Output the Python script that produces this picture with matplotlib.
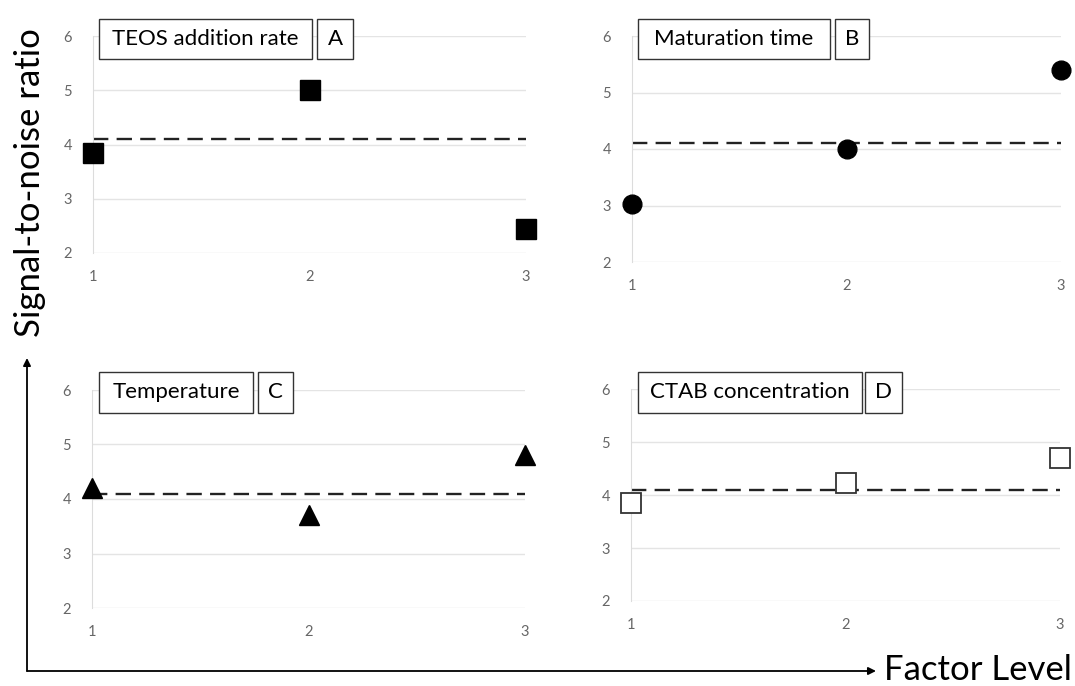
import matplotlib
matplotlib.use("Agg")
import matplotlib.pyplot as plt
from matplotlib.patches import FancyArrowPatch

plt.rcParams['font.family'] = ['Lato', 'DejaVu Sans']

levels = [1, 2, 3]
teos = [3.85, 5.0, 2.44]
maturation = [3.03, 4.0, 5.4]
temperature = [4.2, 3.7, 4.8]
ctab = [3.85, 4.23, 4.7]
mean_sn = 4.1
yticks = [2, 3, 4, 5, 6]

W, H = 1075, 686
fig = plt.figure(figsize=(W / 100, H / 100), dpi=100)

def ax_at(l, r, t, b):
    return fig.add_axes([l / W, 1 - b / H, (r - l) / W, (b - t) / H])

panels = [
    (ax_at(93, 526, 36, 253), teos, dict(marker='s', ms=14, mfc='black', mec='black'),
     "TEOS addition rate", "A", (99, 312, 19, 59), (317, 353)),
    (ax_at(632, 1061, 36, 262), maturation, dict(marker='o', ms=13.5, mfc='black', mec='black'),
     "Maturation time", "B", (638, 830, 19, 59), (835, 869)),
    (ax_at(92, 525, 390, 608), temperature, dict(marker='^', ms=14, mfc='black', mec='black'),
     "Temperature", "C", (99, 253, 372, 413), (258, 293)),
    (ax_at(631, 1060, 389, 601), ctab, dict(marker='s', ms=14.5, mfc='white', mec='#333333', mew=1.3),
     "CTAB concentration", "D", (638, 862, 372, 413), (865, 902)),
]

def box(x0, x1, y0, y1, label):
    fig.patches.append(plt.Rectangle((x0 / W, 1 - y1 / H), (x1 - x0) / W, (y1 - y0) / H,
                                     transform=fig.transFigure, fill=True, fc='white',
                                     ec='#333333', lw=1.0, zorder=4, figure=fig))
    fig.text((x0 + x1) / 2 / W, 1 - (y0 + y1) / 2 / H, label, ha='center', va='center',
             fontsize=16, color='black', zorder=5)

for ax, vals, mk, title, letter, bx, lbox in panels:
    ax.set_xlim(1, 3)
    ax.set_ylim(2, 6)
    ax.set_yticks(yticks)
    ax.set_xticks(levels)
    ax.grid(axis='y', color='#e4e4e4', lw=1.0)
    ax.set_axisbelow(True)
    for s in ['top', 'right', 'bottom']:
        ax.spines[s].set_visible(False)
    ax.spines['left'].set_color('#dcdcdc')
    ax.tick_params(axis='y', length=0, colors='#666666', labelsize=10.5, pad=15)
    ax.tick_params(axis='x', length=0, colors='#666666', labelsize=10.5, pad=12)
    ax.axhline(mean_sn, color='#222222', lw=1.7, ls=(0, (6.5, 3.5)), zorder=2)
    ax.plot(levels, vals, ls='none', clip_on=False, zorder=3, **mk)
    x0, x1, y0, y1 = bx
    box(x0, x1, y0, y1, title)
    lx0, lx1 = lbox
    box(lx0, lx1, y0, y1, letter)

# Axis arrows
fig.patches.append(FancyArrowPatch((27 / W, 1 - 671 / H), (27 / W, 1 - 358 / H),
                                   transform=fig.transFigure, arrowstyle='-|>', mutation_scale=11,
                                   color='black', lw=1.3, shrinkA=0, shrinkB=0))
fig.patches.append(FancyArrowPatch((27 / W, 1 - 671 / H), (876 / W, 1 - 671 / H),
                                   transform=fig.transFigure, arrowstyle='-|>', mutation_scale=11,
                                   color='black', lw=1.3, shrinkA=0, shrinkB=0))
fig.text(30 / W, 1 - 183 / H, "Signal-to-noise ratio", rotation=90, ha='center', va='center',
         fontsize=25, color='black')
fig.text(978 / W, 1 - 670 / H, "Factor Level", ha='center', va='center', fontsize=25,
         color='black')

fig.savefig("out.png", dpi=100, facecolor='white')
